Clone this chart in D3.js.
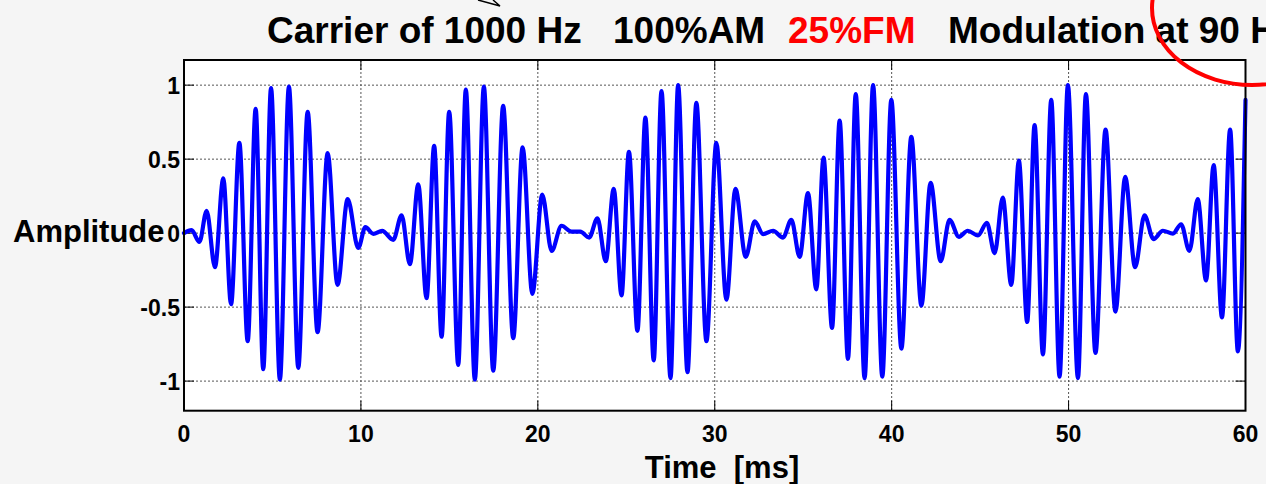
<!DOCTYPE html>
<html>
<head>
<meta charset="utf-8">
<script src="https://cdn.jsdelivr.net/npm/d3@7"></script>
<style>
  html, body { margin: 0; padding: 0; background: #f5f5f5; }
  svg { display: block; }
  text { font-family: "Liberation Sans", Arial, sans-serif; font-weight: bold; }
</style>
</head>
<body>
<svg id="chart" width="1266" height="484"></svg>
<script>
// Sampled waveform: local maxima / minima of the 1000 Hz carrier (time in ms, amplitude)
const timeMs = [
  0, 0.43, 0.87, 1.28, 1.75, 2.22, 2.66, 3.13, 3.60, 4.05, 4.48, 4.92, 5.42, 5.93, 6.46, 6.99,
  7.55, 8.12, 8.68, 9.25, 9.85, 10.25, 10.7, 11.2, 11.83,
  12.3, 12.77, 13.24, 13.71, 14.14, 14.56, 14.99, 15.5, 15.93, 16.44, 16.95, 17.48, 18.04,
  18.61, 19.14, 19.69, 20.25, 20.78, 21.34, 21.9, 22.4, 22.9,
  23.37, 23.84, 24.29, 24.73, 25.15, 25.63, 26.08, 26.55, 26.99, 27.5, 27.93, 28.46, 28.96,
  29.53, 30.09, 30.66, 31.17, 31.75, 32.26, 32.73, 33.3, 33.86,
  34.33, 34.8, 35.27, 35.74, 36.15, 36.63, 37.06, 37.53, 37.97, 38.47, 38.95, 39.47, 39.98,
  40.55, 41.11, 41.68, 42.2, 42.77, 43.27, 43.8, 44.3, 44.88,
  45.38, 45.82, 46.28, 46.76, 47.19, 47.66, 48.08, 48.55, 49.02, 49.49, 49.96, 50.53, 50.98,
  51.52, 52.09, 52.65, 53.2, 53.76, 54.29, 54.8, 55.33, 55.9,
  56.36, 56.83, 57.3, 57.77, 58.2, 58.67, 59.13, 59.57, 60
];
const amplitude = [
  0, 0.02, -0.06, 0.15, -0.23, 0.37, -0.48, 0.61, -0.73, 0.84, -0.92, 0.98, -0.99, 0.99, -0.91, 0.82,
  -0.67, 0.54, -0.35, 0.23, -0.10, 0.04, -0.005, 0.015, -0.045,
  0.12, -0.21, 0.33, -0.44, 0.59, -0.70, 0.82, -0.89, 0.97, -0.99, 0.99, -0.93, 0.86,
  -0.71, 0.58, -0.41, 0.26, -0.12, 0.05, 0.01, 0.01, -0.03,
  0.10, -0.19, 0.30, -0.42, 0.55, -0.66, 0.78, -0.86, 0.96, -0.98, 1.0, -0.94, 0.88,
  -0.73, 0.61, -0.45, 0.30, -0.16, 0.08, -0.007, 0.016, -0.03,
  0.09, -0.16, 0.27, -0.38, 0.51, -0.64, 0.76, -0.85, 0.94, -0.98, 1.0, -0.97, 0.90,
  -0.78, 0.65, -0.49, 0.34, -0.19, 0.09, -0.025, 0.016, -0.016,
  0.07, -0.135, 0.24, -0.35, 0.49, -0.60, 0.73, -0.82, 0.90, -0.97, 1.0, -0.98, 0.94,
  -0.81, 0.70, -0.53, 0.38, -0.23, 0.12, -0.04, 0.016, -0.003,
  0.06, -0.12, 0.23, -0.32, 0.46, -0.57, 0.70, -0.80, 0.90
];

const xTicks = [0, 10, 20, 30, 40, 50, 60];
const yTicks = [-1, -0.5, 0, 0.5, 1];
const yTickLabels = ["-1", "-0.5", "0", "0.5", "1"];

const titleParts = [
  { text: "Carrier of 1000 Hz", x: 267, color: "#000" },
  { text: "100%AM", x: 613, color: "#000" },
  { text: "25%FM", x: 788, color: "#ff0000" },
  { text: "Modulation at 90 Hz", x: 948, color: "#000" }
];

const svg = d3.select("#chart");
const plotLeft = 184, plotRight = 1245.5, plotTop = 60, plotBottom = 410.7;

const x = d3.scaleLinear().domain([0, 60]).range([plotLeft, plotRight]);
const y = d3.scaleLinear().domain([-1.2, 1.17]).range([plotBottom, plotTop]);

// figure background
svg.append("rect").attr("width", 1266).attr("height", 484).attr("fill", "#f5f5f5");

// plot area
svg.append("rect")
  .attr("x", plotLeft).attr("y", plotTop)
  .attr("width", plotRight - plotLeft).attr("height", plotBottom - plotTop)
  .attr("fill", "#ffffff");

// dotted grid
const grid = svg.append("g").attr("stroke", "#555").attr("stroke-width", 1)
  .attr("stroke-dasharray", "2,2").attr("fill", "none");
grid.selectAll("line.gx").data(xTicks.slice(1, -1)).join("line")
  .attr("class", "gx")
  .attr("x1", d => x(d)).attr("x2", d => x(d)).attr("y1", plotTop).attr("y2", plotBottom);
grid.selectAll("line.gy").data(yTicks).join("line")
  .attr("class", "gy")
  .attr("x1", plotLeft).attr("x2", plotRight).attr("y1", d => y(d)).attr("y2", d => y(d));

// inward tick marks on all sides
const tickLen = 10;
const ticks = svg.append("g").attr("stroke", "#000").attr("stroke-width", 1);
yTicks.forEach(v => {
  ticks.append("line").attr("x1", plotLeft).attr("x2", plotLeft + tickLen).attr("y1", y(v)).attr("y2", y(v));
  ticks.append("line").attr("x1", plotRight).attr("x2", plotRight - tickLen).attr("y1", y(v)).attr("y2", y(v));
});
xTicks.forEach(v => {
  ticks.append("line").attr("x1", x(v)).attr("x2", x(v)).attr("y1", plotBottom).attr("y2", plotBottom - tickLen);
  ticks.append("line").attr("x1", x(v)).attr("x2", x(v)).attr("y1", plotTop).attr("y2", plotTop + tickLen);
});

// waveform
const data = timeMs.map((t, i) => ({ t, v: amplitude[i] }));
const line = d3.line().x(d => x(d.t)).y(d => y(d.v)).curve(d3.curveMonotoneX);
svg.append("path")
  .datum(data)
  .attr("d", line)
  .attr("fill", "none")
  .attr("stroke", "#0000ff")
  .attr("stroke-width", 4.2)
  .attr("stroke-linejoin", "round")
  .attr("stroke-linecap", "round");

// axes box
svg.append("rect")
  .attr("x", plotLeft).attr("y", plotTop)
  .attr("width", plotRight - plotLeft).attr("height", plotBottom - plotTop)
  .attr("fill", "none").attr("stroke", "#000").attr("stroke-width", 2);

// tick labels
svg.append("g").selectAll("text").data(xTicks).join("text")
  .attr("x", d => x(d)).attr("y", 442)
  .attr("text-anchor", "middle").attr("font-size", 23)
  .text(d => d);
svg.append("g").selectAll("text").data(yTicks).join("text")
  .attr("x", 180).attr("y", d => y(d) + 8.5)
  .attr("text-anchor", "end").attr("font-size", 23)
  .text((d, i) => yTickLabels[i]);

// axis titles
svg.append("text")
  .attr("x", 13).attr("y", 242)
  .attr("font-size", 31)
  .text("Amplitude");
svg.append("text")
  .attr("x", 722).attr("y", 478)
  .attr("text-anchor", "middle").attr("font-size", 31)
  .style("white-space", "pre")
  .text("Time  [ms]");

// title
svg.append("g").selectAll("text").data(titleParts).join("text")
  .attr("x", d => d.x).attr("y", 43)
  .attr("font-size", 37)
  .attr("fill", d => d.color)
  .text(d => d.text);

// hand-drawn annotations
svg.append("path")
  .attr("d", "M478,0 L500,6 L493,0")
  .attr("fill", "none").attr("stroke", "#000").attr("stroke-width", 1.5);
svg.append("ellipse")
  .attr("cx", 1252).attr("cy", 8).attr("rx", 100).attr("ry", 77)
  .attr("fill", "none").attr("stroke", "#ff0000").attr("stroke-width", 4);
</script>
</body>
</html>
